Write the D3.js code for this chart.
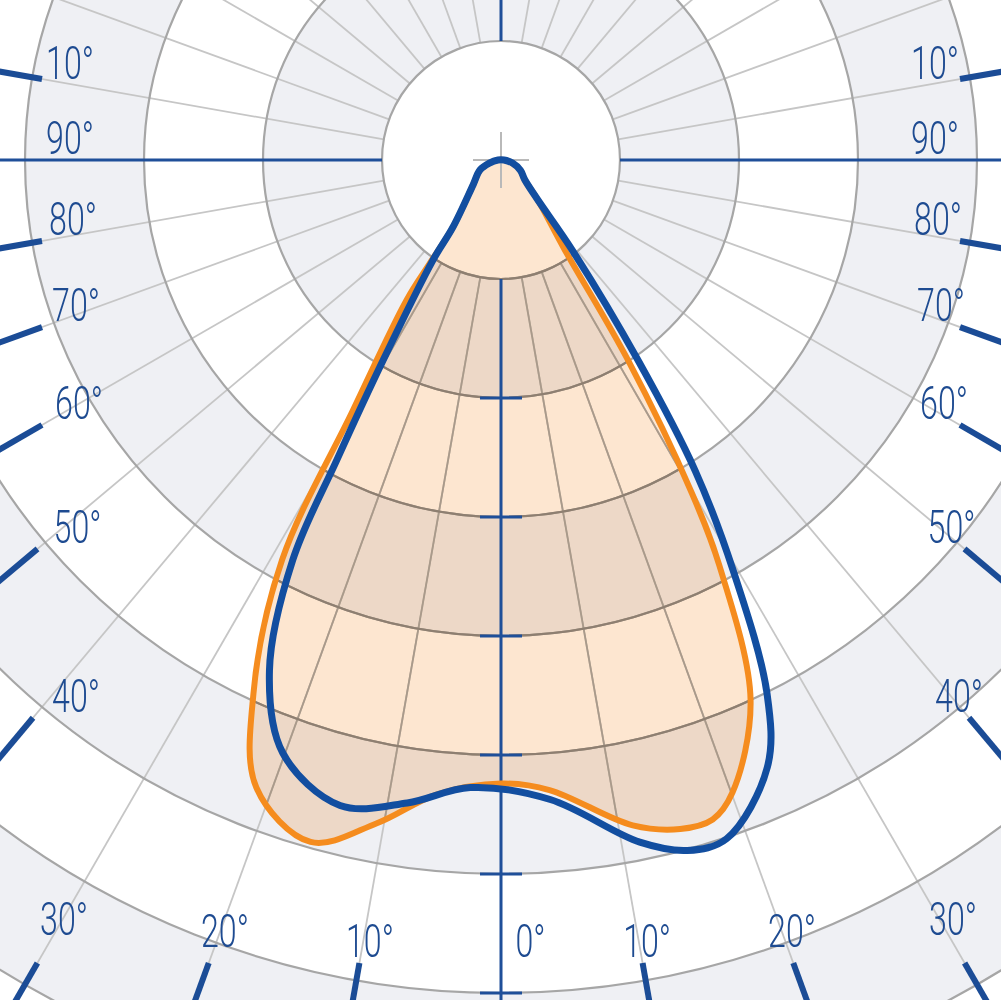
<!DOCTYPE html>
<html>
<head>
<meta charset="utf-8">
<script src="https://cdn.jsdelivr.net/npm/d3@7"></script>
<style>
  html, body { margin: 0; padding: 0; background: #ffffff; }
  svg { display: block; }
</style>
</head>
<body>
<svg id="chart" width="1001" height="1000"></svg>
<script>
// ---------------- data ----------------
// gamma angles in degrees from nadir (negative = left half-plane) and intensities
const blueAngles = [-90,-75,-64.5,-48.2,-35.6,-34.2,-30.5,-28.7,-27.5,-24.4,-20.2,-14.0,-8.3,-2.8,
  4.4,11.5,15.1,18.4,23.7,26.5,29.5,32.0,34.4,38.3,42.8,50.2,62,75,90];
const blueValues = [2.5,10.1,19.6,31.5,69.2,101.7,195,287,379,471,531,559,546,528,
  539,585,601,601,557,501,396,308,203,97,45,26,18.5,10,2.5];

const orangeAngles = [-90,-75,-64.5,-48.2,-35.6,-34.6,-34.0,-30.6,-28.7,-24.9,-21.3,-15.6,-10.6,-5.8,
  0,4.4,11.2,15.0,17.8,20.1,24.8,28.3,29.8,32.4,35.4,42.8,50.2,62,75,90];
const orangeValues = [2.5,10.1,19.6,31.5,69.2,105,142,245,383,494,566,595,567,536,
  524,531,570,582,582,566,500,387,323,199,92,45,26,18.5,10,2.5];

// polar grid rings
const ringValues = [100,200,300,400,500,600,700,800,900,1000];
// angle tick labels (degrees from nadir)
const labelAngles = [0,10,20,30,40,50,60,70,80,90,100];
const gridAngles = d3.range(-170, 190, 10);

// ---------------- layout ----------------
const W = 1001, H = 1000;
const C = {x: 501, y: 160};
const rScale = d3.scaleLinear().domain([0, 100]).range([0, 119]);
const rad = d => d * Math.PI / 180;
const pt = (a, v) => [C.x + rScale(v) * Math.sin(rad(a)), C.y + rScale(v) * Math.cos(rad(a))];

const svg = d3.select('#chart');
const defs = svg.append('defs');

const blueAxis = '#1f4f99';
const labelBlue = '#1e4b91';

// background bands
svg.append('rect').attr('width', W).attr('height', H).attr('fill', '#ffffff');
const bands = svg.append('g');
ringValues.slice().reverse().forEach(v => {
  const k = v / 100;
  bands.append('circle').attr('cx', C.x).attr('cy', C.y).attr('r', rScale(v))
    .attr('fill', k % 2 === 0 ? '#eff0f4' : '#ffffff');
});

function drawGrid(g, radialColor, ringColor) {
  g.selectAll('line.radial').data(gridAngles.filter(a => a % 90 !== 0)).enter().append('line')
    .attr('class', 'radial')
    .attr('x1', a => pt(a, 100)[0]).attr('y1', a => pt(a, 100)[1])
    .attr('x2', a => pt(a, 1200)[0]).attr('y2', a => pt(a, 1200)[1])
    .attr('stroke', radialColor).attr('stroke-width', 1.8);
  g.selectAll('circle.ring').data(ringValues).enter().append('circle')
    .attr('class', 'ring')
    .attr('cx', C.x).attr('cy', C.y).attr('r', v => rScale(v))
    .attr('fill', 'none').attr('stroke', ringColor).attr('stroke-width', 2.2);
}
drawGrid(svg.append('g'), '#c6c6c6', '#a6a6a6');

// curves
const line = d3.line().curve(d3.curveCatmullRomClosed.alpha(0.5));
const orangeD = line(orangeAngles.map((a, i) => pt(a, orangeValues[i])));
const blueD = line(blueAngles.map((a, i) => pt(a, blueValues[i])));

defs.append('clipPath').attr('id', 'fillClip').append('path').attr('d', orangeD);

svg.append('path').attr('d', orangeD)
  .attr('fill', '#fde6d0')
  .style('mix-blend-mode', 'multiply');

drawGrid(svg.append('g').attr('clip-path', 'url(#fillClip)'), '#a99a8b', '#8e7f71');

// axes
const axes = svg.append('g').attr('stroke', blueAxis).attr('stroke-width', 3);
axes.append('line').attr('x1', 0).attr('x2', C.x - rScale(100)).attr('y1', C.y).attr('y2', C.y);
axes.append('line').attr('x1', C.x + rScale(100)).attr('x2', W).attr('y1', C.y).attr('y2', C.y);
axes.append('line').attr('x1', C.x).attr('x2', C.x).attr('y1', 0).attr('y2', C.y - rScale(100));
axes.append('line').attr('x1', C.x).attr('x2', C.x).attr('y1', C.y + rScale(100)).attr('y2', H);
axes.selectAll('line.vt').data(ringValues.filter(v => v >= 200)).enter().append('line')
  .attr('class', 'vt')
  .attr('x1', C.x - 21).attr('x2', C.x + 21)
  .attr('y1', v => C.y + rScale(v)).attr('y2', v => C.y + rScale(v));

// crosshair at centre
const ch = svg.append('g').attr('stroke', '#b9b9b9').attr('stroke-width', 2);
ch.append('line').attr('x1', C.x - 28).attr('x2', C.x + 28).attr('y1', C.y).attr('y2', C.y);
ch.append('line').attr('x1', C.x).attr('x2', C.x).attr('y1', C.y - 28).attr('y2', C.y + 28);

// angle ticks + labels
const bottomY = 963;
function innerEnd(a) {
  const abs = Math.abs(a);
  const side = 459 + Math.max(0, 60 - abs) * 0.45;
  const dx = Math.sin(rad(a)), dy = Math.cos(rad(a));
  let t = Infinity;
  if (Math.abs(dx) > 1e-9) t = Math.min(t, side / Math.abs(dx));
  if (dy > 1e-9) t = Math.min(t, (bottomY - C.y) / dy);
  return {x: C.x + t * dx, y: C.y + t * dy, dx, dy};
}
const signed = [];
labelAngles.forEach(a => {
  if (a === 0) signed.push(0);
  else { signed.push(-a); signed.push(a); }
});
const tickG = svg.append('g').attr('stroke', '#1b4c96').attr('stroke-width', 6);
signed.filter(a => a !== 0 && Math.abs(a) !== 90).forEach(a => {
  const p = innerEnd(a);
  tickG.append('line').attr('x1', p.x).attr('y1', p.y)
    .attr('x2', p.x + 400 * p.dx).attr('y2', p.y + 400 * p.dy);
});

const labelG = svg.append('g');
signed.forEach(a => {
  const abs = Math.abs(a);
  const p = innerEnd(a);
  let cx, cy;
  if (a === 0) { cx = p.x + 29.5; cy = p.y - 22; }
  else if (abs <= 30) {
    const d = 18 + 0.2 * abs + 0.03 * abs * abs;
    cx = p.x - 0.75 * d * p.dx + 7.5; cy = p.y - d * p.dy;
  } else {
    cx = p.x + (a < 0 ? 28 : -25) + Math.max(0, 90 - abs) * 0.3;
    cy = p.y - (abs > 90 ? 16 : 22);
  }
  const txt = (abs > 90 ? abs - 90 : abs) + '\u00B0';
  labelG.append('text')
    .attr('transform', `translate(${cx},${cy + 16.4}) scale(0.7,1)`)
    .attr('text-anchor', 'middle')
    .attr('font-family', 'Roboto, "DejaVu Sans", sans-serif')
    .attr('font-size', 46)
    .attr('font-weight', 300)
    .attr('fill', labelBlue)
    .text(txt);
});

// curve strokes
svg.append('path').attr('d', orangeD).attr('fill', 'none')
  .attr('stroke', '#f58c1e').attr('stroke-width', 6).attr('stroke-linejoin', 'round');
svg.append('path').attr('d', blueD).attr('fill', 'none')
  .attr('stroke', '#124ea0').attr('stroke-width', 7).attr('stroke-linejoin', 'round');
</script>
</body>
</html>
